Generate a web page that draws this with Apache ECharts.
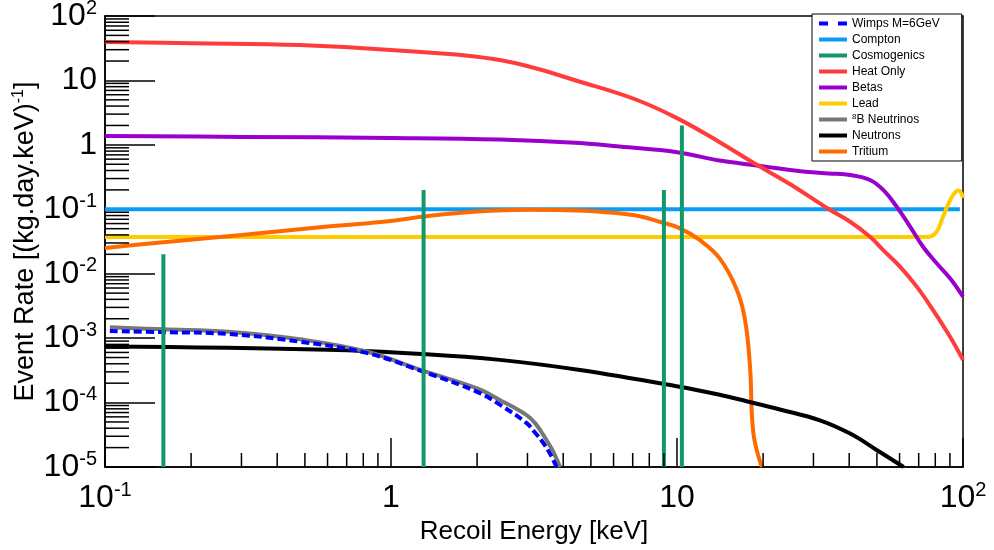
<!DOCTYPE html>
<html lang="en">
<head>
<meta charset="UTF-8">
<title>Event rate vs recoil energy</title>
<script src="https://cdn.jsdelivr.net/npm/echarts@6/dist/echarts.min.js"></script>
<style>
  html, body { margin: 0; padding: 0; background: #fff; }
  #chart { width: 994px; height: 550px; }
</style>
</head>
<body>
<div id="chart"></div>
<script>
// values: [recoil energy keV, rate per kg.day.keV]
var wimps = [[0.104, 1.29e-3], [0.16, 1.24e-3], [0.27, 1.16e-3], [0.48, 8.8e-4], [0.82, 5.9e-4],
  [1.3, 3.0e-4], [2.0, 1.47e-4], [2.4, 9.3e-5], [2.98, 4.8e-5], [3.19, 3.4e-5], [3.4, 2.4e-5],
  [3.6, 1.6e-5], [3.79, 1e-5]];
var compton = [[0.1, 0.1], [97.5, 0.1]];
var cosmoLines = [[0.16, 0.02], [1.3, 0.2], [9.0, 0.2], [10.4, 2]];
var heatOnly = [[0.1, 39.5], [0.2, 37.8], [0.48, 35.5], [1, 29.6], [2.4, 20.7], [5, 8.5], [7.25, 4.97],
  [10, 2.6], [14.1, 1.1], [19, 0.49], [24.8, 0.247], [34, 0.1], [40.3, 0.064], [47.3, 0.0375],
  [52.6, 0.0233], [60.2, 0.0129], [68.9, 0.0063], [78.7, 0.0027], [90.1, 0.00105], [100, 0.00046]];
var betas = [[0.1, 1.37], [0.3, 1.33], [1, 1.28], [2.4, 1.21], [4.58, 1.07], [6.3, 0.94], [10, 0.77],
  [14.1, 0.57], [19, 0.48], [27, 0.39], [34, 0.36], [40.3, 0.34], [47.3, 0.285], [52.6, 0.2],
  [58.6, 0.11], [65.3, 0.054], [72.6, 0.026], [80.9, 0.0145], [90.1, 0.0085], [100, 0.0044]];
var lead = [[0.1, 0.037], [72, 0.037], [76.5, 0.0375], [80.9, 0.045], [85, 0.075], [88, 0.11],
  [91, 0.15], [94, 0.185], [96.5, 0.195], [98.5, 0.18], [100, 0.15]];
var b8Neutrinos = [[0.104, 1.47e-3], [0.16, 1.37e-3], [0.27, 1.26e-3], [0.48, 9.6e-4], [0.82, 6.2e-4],
  [1.3, 3.1e-4], [2.0, 1.66e-4], [2.4, 1.1e-4], [2.98, 6.4e-5], [3.19, 4.8e-5], [3.4, 3.2e-5],
  [3.65, 1.9e-5], [3.9, 1e-5]];
var neutrons = [[0.1, 7.4e-4], [0.6, 6.6e-4], [1.29, 5.67e-4], [2.4, 4.6e-4], [4.58, 3.2e-4],
  [10.2, 1.76e-4], [14.1, 1.32e-4], [17.5, 1.05e-4], [22.9, 7.8e-5], [31.6, 5.3e-5], [40.3, 3.3e-5],
  [49.9, 1.84e-5], [62, 1e-5]];
var tritium = [[0.1, 0.025], [0.15, 0.03], [0.3, 0.04], [0.6, 0.054], [1, 0.066], [1.3, 0.077],
  [2, 0.092], [3, 0.098], [4.5, 0.096], [6, 0.088], [7.4, 0.078], [8.7, 0.064], [10.2, 0.051],
  [12, 0.0334], [14.1, 0.0173], [16.2, 0.0056], [17.3, 0.0019], [18, 3.6e-4], [18.5, 3.3e-5], [19.8, 1e-5]];

var xRange = [0.1, 100];
var yRange = [1e-5, 100];
var tickMantissas = [2, 3, 4, 5, 6, 7, 8, 9];
var xDecades = [0.1, 1, 10];
var yDecades = [1e-5, 1e-4, 1e-3, 1e-2, 1e-1, 1, 10];

var names = ['Wimps M=6GeV', 'Compton', 'Cosmogenics', 'Heat Only', 'Betas', 'Lead',
  '8B Neutrinos', 'Neutrons', 'Tritium'];

var FONT = '"Liberation Sans", Arial, sans-serif';

function minorTicks(decades) {
  var out = [];
  decades.forEach(function (d) {
    tickMantissas.forEach(function (m) { out.push(+(m * d).toPrecision(3)); });
  });
  return out;
}

function powLabel(v) {
  var e = Math.round(Math.log10(v));
  if (e === 0) return '1';
  if (e === 1) return '10';
  return '10{sup|' + e + '}';
}

// short ticks drawn on the axis through the log scales
function tickSeries(vals, onX, len) {
  return {
    type: 'custom',
    silent: true,
    clip: false,
    z: 5,
    data: vals.map(function (v) { return onX ? [v, yRange[0]] : [xRange[0], v]; }),
    renderItem: function (params, api) {
      var p = api.coord([api.value(0), api.value(1)]);
      var shape = onX
        ? { x1: p[0], y1: p[1], x2: p[0], y2: p[1] - len }
        : { x1: p[0], y1: p[1], x2: p[0] + len, y2: p[1] };
      return { type: 'line', shape: shape, style: { stroke: '#000', lineWidth: 1.5 } };
    }
  };
}

function curve(name, data, color, extra) {
  var s = {
    name: name,
    type: 'line',
    data: data,
    symbol: 'none',
    smooth: 0.4,
    lineStyle: { color: color, width: 4 },
    itemStyle: { color: color },
    z: 3
  };
  if (extra) Object.assign(s.lineStyle, extra);
  return s;
}

var series = [
  curve('Compton', compton, '#0a9cf5'),
  curve('Lead', lead, '#ffcc00'),
  curve('Tritium', tritium, '#ff6a00'),
  curve('Betas', betas, '#9900cc'),
  curve('Heat Only', heatOnly, '#ff3b3b'),
  curve('Neutrons', neutrons, '#000000'),
  curve('8B Neutrinos', b8Neutrinos, '#777777'),
  curve('Wimps M=6GeV', wimps, '#0000ff', { type: [8, 4] })
];
cosmoLines.forEach(function (c) {
  var s = curve('Cosmogenics', [[c[0], yRange[0]], [c[0], c[1]]], '#12986a');
  s.smooth = false;
  s.z = 4;
  series.push(s);
});
series.push(tickSeries(minorTicks(xDecades), true, 14));
series.push(tickSeries(minorTicks(yDecades), false, 24));

var legendData = names.map(function (n) {
  return n === 'Wimps M=6GeV' ? { name: n, lineStyle: { type: [9, 10] } } : { name: n };
});

var chart = echarts.init(document.getElementById('chart'), null, { renderer: 'canvas' });
chart.setOption({
  animation: false,
  backgroundColor: '#fff',
  grid: {
    left: 105, right: 31, top: 16, bottom: 83,
    show: true, borderColor: '#000', borderWidth: 1.5,
    outerBoundsMode: 'none'
  },
  legend: {
    orient: 'vertical',
    left: 812, top: 14,
    data: legendData,
    itemWidth: 28, itemHeight: 4, itemGap: 3,
    padding: [3, 22, 3, 5],
    backgroundColor: '#fff', borderColor: '#000', borderWidth: 1, borderRadius: 0,
    selectedMode: false,
    itemStyle: { opacity: 0 },
    lineStyle: { width: 4 },
    formatter: function (n) { return n === '8B Neutrinos' ? '{s|8}B Neutrinos' : n; },
    textStyle: {
      fontFamily: FONT, fontSize: 12, color: '#000', lineHeight: 13,
      rich: { s: { fontFamily: FONT, fontSize: 8, lineHeight: 8, verticalAlign: 'top', color: '#000' } }
    }
  },
  xAxis: {
    type: 'log',
    min: xRange[0], max: xRange[1],
    splitNumber: 3,
    name: 'Recoil Energy [keV]',
    nameLocation: 'middle', nameGap: 52,
    nameMoveOverlap: false,
    nameTextStyle: { fontFamily: FONT, fontSize: 26, color: '#000' },
    axisLine: { lineStyle: { color: '#000', width: 1.5 } },
    axisTick: { inside: true, length: 29, lineStyle: { color: '#000', width: 1.5 } },
    splitLine: { show: false },
    axisLabel: {
      margin: 13, formatter: powLabel,
      fontFamily: FONT, fontSize: 32, lineHeight: 36, color: '#000',
      rich: { sup: { fontFamily: FONT, fontSize: 20, lineHeight: 20, verticalAlign: 'top', color: '#000' } }
    }
  },
  yAxis: {
    type: 'log',
    min: yRange[0], max: yRange[1],
    splitNumber: 7,
    name: 'Event Rate [(kg.day.keV){s|-1}]',
    nameLocation: 'middle', nameGap: 64, nameRotate: 90,
    nameMoveOverlap: false,
    nameTextStyle: {
      fontFamily: FONT, fontSize: 27, lineHeight: 30, color: '#000',
      rich: { s: { fontFamily: FONT, fontSize: 16, lineHeight: 16, verticalAlign: 'top', color: '#000' } }
    },
    axisLine: { lineStyle: { color: '#000', width: 1.5 } },
    axisTick: { inside: true, length: 50, lineStyle: { color: '#000', width: 1.5 } },
    splitLine: { show: false },
    axisLabel: {
      margin: 8, formatter: powLabel,
      fontFamily: FONT, fontSize: 32, lineHeight: 36, color: '#000',
      rich: { sup: { fontFamily: FONT, fontSize: 20, lineHeight: 20, verticalAlign: 'top', color: '#000' } }
    }
  },
  series: series
});
</script>
</body>
</html>
